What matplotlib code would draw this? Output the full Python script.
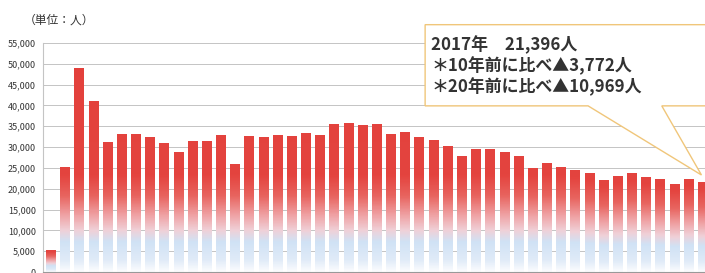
import numpy as np
import matplotlib
matplotlib.use('Agg')
import matplotlib.pyplot as plt
from matplotlib.colors import LinearSegmentedColormap
from matplotlib.patches import Polygon

plt.rcParams['font.family'] = ['Noto Sans CJK JP', 'DejaVu Sans']

# 1971 - 2017
years = list(range(1971, 2018))
values = [5120, 25000, 48960, 40940, 31090, 32930, 32930, 32290, 30930, 28770,
          31250, 31250, 32850, 25700, 32530, 32370, 32700, 32450, 33340, 32700,
          35500, 35740, 35170, 35340, 32930, 33490, 32365, 31570, 30130, 27750,
          29400, 29400, 28600, 27700, 24840, 25960, 25168, 24280, 23560, 21880,
          22900, 23720, 22680, 22280, 21080, 22280, 21396]
yticks = list(range(0, 55001, 5000))
unit_label = '（単位：人）'
note_lines = ['2017年　21,396人',
              '＊10年前に比べ▲3,772人',
              '＊20年前に比べ▲10,969人']

grad = LinearSegmentedColormap.from_list('grad', [
    (0.00, '#fbfcfe'),
    (0.05, '#e0ebf8'),
    (0.13, '#d0e2f5'),
    (0.18, '#f0d0d7'),
    (0.25, '#ef9fa1'),
    (0.33, '#e8645f'),
    (0.42, '#e4443f'),
    (1.00, '#e3403b')])

fig = plt.figure(figsize=(7.05, 2.73), dpi=100)
ax = fig.add_axes([43 / 705, 1 / 273, 662 / 705, 229 / 273])

x = np.arange(len(values))
bars = ax.bar(x, values, width=0.7, facecolor='none', edgecolor='none', zorder=2)

# gradient fill for each bar
for b, h in zip(bars, values):
    s = max(1.0, 25000 / h)
    col = np.linspace(0, h, 200) * s / 55000
    ax.imshow(col[:, None], origin='lower', cmap=grad, vmin=0, vmax=1,
              extent=(b.get_x(), b.get_x() + b.get_width(), 0, b.get_height()),
              aspect='auto', interpolation='bilinear', zorder=2)

ax.set_xlim(-0.565, 46.15)
ax.set_ylim(0, 55000)
ax.set_yticks(yticks)
ax.set_yticklabels([f'{v:,}' for v in yticks], fontsize=6.5, color='#333333')
ax.set_xticks([])
ax.tick_params(axis='y', length=0, pad=5)
ax.grid(axis='y', color='#c4c4c4', lw=0.7, zorder=0)
ax.set_axisbelow(True)
for sp in ['top', 'right']:
    ax.spines[sp].set_visible(False)
ax.spines['left'].set_color('#c4c4c4')
ax.spines['bottom'].set_color('#999999')

fig.text(24 / 705, 1 - 20 / 273, unit_label, fontsize=8.5, color='#333333',
         va='center', ha='left')

# callout box
tip_x = x[-1] - 0.1
tip_y = values[-1] + 1900
box = Polygon([(26.4, 59400), (48, 59400), (48, 39900), (43.1, 39900),
               (tip_x, tip_y), (37.9, 39900), (26.4, 39900)],
              closed=True, facecolor='white', edgecolor='#f0c67a', lw=1.0,
              clip_on=False, zorder=5)
ax.add_patch(box)

for i, line in enumerate(note_lines):
    fig.text(431 / 705, 1 - (45 + 21 * i) / 273, line, fontsize=12.2,
             fontweight='bold', color='#333333', va='center', ha='left',
             zorder=6)

fig.savefig('out.png', dpi=100)
